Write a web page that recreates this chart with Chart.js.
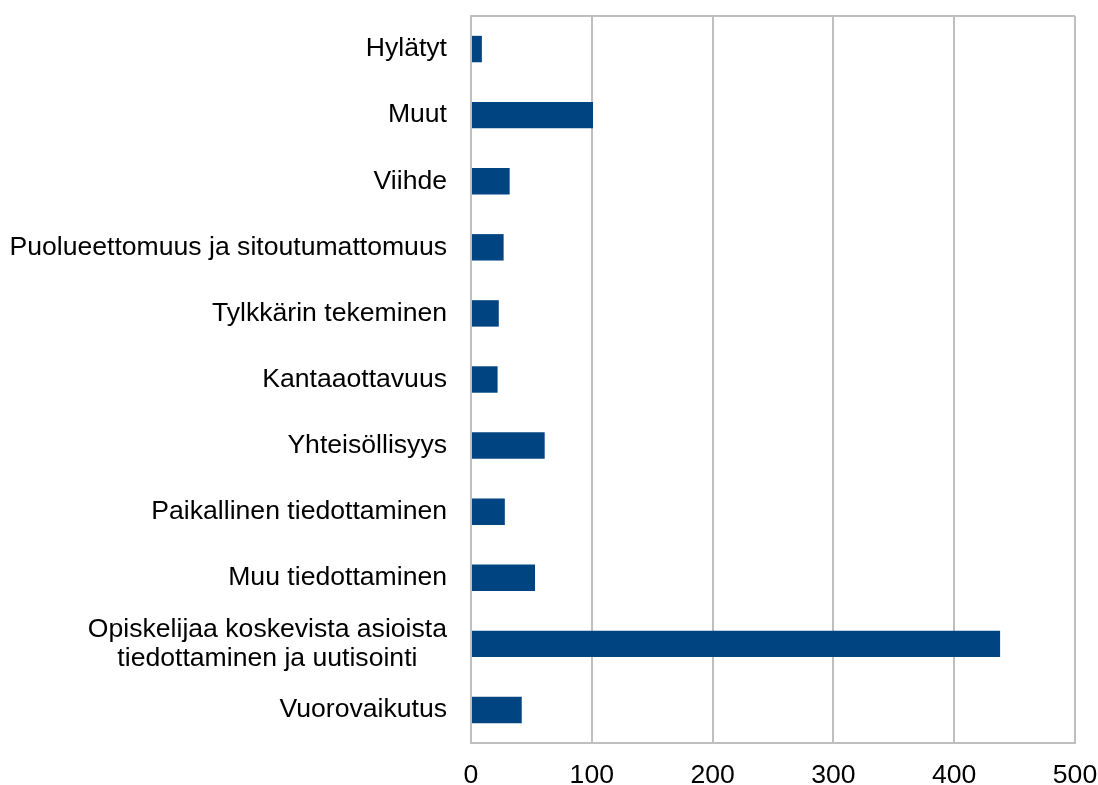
<!DOCTYPE html>
<html>
<head>
<meta charset="utf-8">
<script src="https://cdn.jsdelivr.net/npm/chart.js@4/dist/chart.umd.min.js"></script>
<style>
    body { margin: 0; background: #fff; }
</style>
</head>
<body>
<canvas id="chart" width="1098" height="785"></canvas>
<script>
// data (top to bottom)
const categories = [
    'Hylätyt',
    'Muut',
    'Viihde',
    'Puolueettomuus ja sitoutumattomuus',
    'Tylkkärin tekeminen',
    'Kantaaottavuus',
    'Yhteisöllisyys',
    'Paikallinen tiedottaminen',
    'Muu tiedottaminen',
    ['Opiskelijaa koskevista asioista', 'tiedottaminen ja uutisointi\u00a0\u00a0\u00a0\u00a0'],
    'Vuorovaikutus'
];
const counts = [9, 101, 32, 27, 23, 22, 61, 28, 53, 438, 42];
const xTicks = [0, 100, 200, 300, 400, 500];

const gridGrey = '#BFBFBF';
const font = { family: "'Liberation Sans', Arial, sans-serif", size: 26.6, lineHeight: 1.08 };

// top edge of the plot box
const topBorder = {
    id: 'topBorder',
    afterDraw(chart) {
        const a = chart.chartArea;
        const c = chart.ctx;
        c.save();
        c.strokeStyle = gridGrey;
        c.lineWidth = 2;
        c.beginPath();
        c.moveTo(a.left, a.top);
        c.lineTo(a.right, a.top);
        c.stroke();
        c.restore();
    }
};

var ctx = document.getElementById('chart').getContext('2d');
var barChart = new Chart(ctx, {
    type: 'bar',
    data: {
        labels: categories,
        datasets: [{
            data: counts,
            backgroundColor: '#004481',
            barPercentage: 0.4,
            categoryPercentage: 1
        }]
    },
    options: {
        indexAxis: 'y',
        responsive: false,
        animation: false,
        devicePixelRatio: 1,
        layout: { padding: { left: 10, right: 23, top: 16, bottom: 0 } },
        plugins: { legend: { display: false }, tooltip: { enabled: false } },
        scales: {
            x: {
                min: xTicks[0],
                max: xTicks[xTicks.length - 1],
                afterBuildTicks: scale => { scale.ticks = xTicks.map(v => ({ value: v })); },
                afterFit: scale => {
                    scale.height = 42;
                    scale.paddingLeft = 0;
                    scale.paddingRight = 0;
                },
                grid: { color: gridGrey, lineWidth: 2, drawTicks: false },
                border: { display: true, color: gridGrey, width: 2 },
                ticks: { color: '#000', font: font, padding: 18 }
            },
            y: {
                afterFit: scale => {
                    scale.width = 461;
                    scale.paddingTop = 0;
                    scale.paddingBottom = 0;
                },
                grid: { display: false, drawTicks: false },
                border: { display: true, color: gridGrey, width: 2 },
                ticks: { color: '#000', font: font, padding: 24, autoSkip: false }
            }
        }
    },
    plugins: [topBorder]
});
</script>
</body>
</html>
